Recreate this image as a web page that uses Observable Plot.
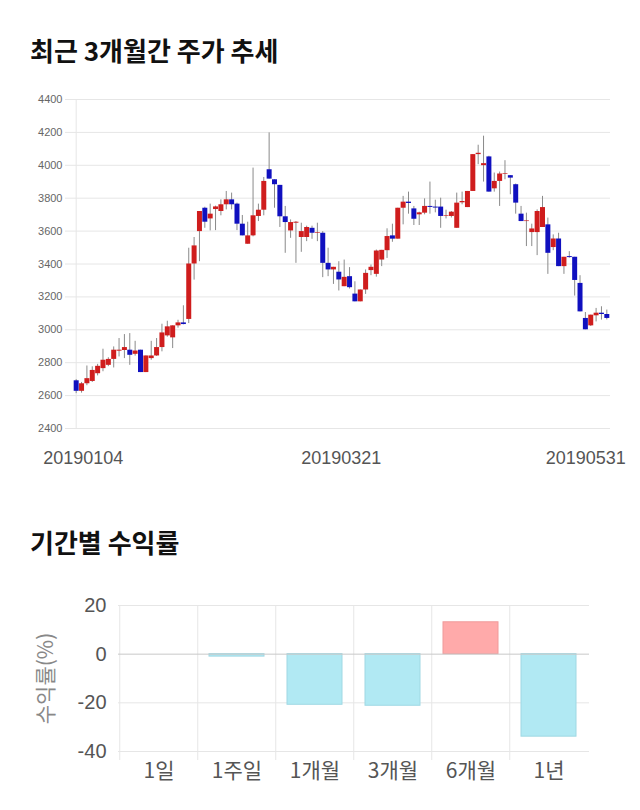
<!DOCTYPE html>
<html><head><meta charset="utf-8">
<script src="https://cdn.jsdelivr.net/npm/d3@7"></script>
<script src="https://cdn.jsdelivr.net/npm/@observablehq/plot@0.6"></script>
<style>
body{margin:0;background:#fff;width:640px;height:810px;position:relative;overflow:hidden;font-family:"Noto Sans CJK KR","Noto Sans",sans-serif;}
.title{position:absolute;left:30px;font-size:26px;font-weight:bold;color:#111;line-height:1;white-space:nowrap;}
#c1{position:absolute;left:0;top:80px;}
#c2{position:absolute;left:0;top:580px;}
svg{display:block;}
</style></head><body>
<div class="title" style="top:37px">최근 3개월간 주가 추세</div>
<div id="c1"></div>
<div class="title" style="top:529px">기간별 수익률</div>
<div id="c2"></div>
<script>
const dates = [
"20190104","20190107","20190108","20190109","20190110","20190111","20190114","20190115","20190116","20190117",
"20190118","20190121","20190122","20190123","20190124","20190125","20190128","20190129","20190130","20190131",
"20190201","20190207","20190208","20190211","20190212","20190213","20190214","20190215","20190218","20190219",
"20190220","20190221","20190222","20190225","20190226","20190227","20190228","20190304","20190305","20190306",
"20190307","20190308","20190311","20190312","20190313","20190314","20190315","20190318","20190319","20190320",
"20190321","20190322","20190325","20190326","20190327","20190328","20190329","20190401","20190402","20190403",
"20190404","20190405","20190408","20190409","20190410","20190411","20190412","20190415","20190416","20190417",
"20190418","20190419","20190422","20190423","20190424","20190425","20190426","20190429","20190430","20190502",
"20190503","20190507","20190508","20190509","20190510","20190513","20190514","20190515","20190516","20190517",
"20190520","20190521","20190522","20190523","20190524","20190527","20190528","20190529","20190530","20190531"];
const opens = [
2690,2626,2672,2686,2733,2764,2784,2820,2870,2874,
2876,2851,2876,2740,2825,2841,2892,2963,2951,3024,
3042,3063,3400,3597,3739,3674,3731,3719,3760,3790,
3764,3642,3520,3571,3689,3727,3973,3912,3878,3687,
3601,3648,3561,3561,3617,3587,3587,3404,3364,3350,
3262,3323,3217,3170,3242,3360,3337,3424,3481,3571,
3551,3739,3776,3735,3699,3709,3750,3746,3746,3691,
3689,3617,3772,3743,3841,4065,3998,4051,3857,3902,
3945,3937,3882,3703,3658,3591,3591,3622,3638,3500,
3552,3384,3445,3441,3282,3069,3024,3085,3101,3093];
const highs = [
2697,2680,2780,2775,2790,2882,2830,2896,2947,2971,
2977,2930,2876,2841,2930,2947,3034,3052,3024,3058,
3146,3496,3561,3719,3745,3764,3752,3790,3841,3831,
3770,3695,3654,3983,3764,3926,4197,3912,3878,3750,
3668,3658,3648,3630,3630,3648,3597,3496,3380,3414,
3424,3378,3292,3242,3364,3394,3485,3483,3614,3642,
3739,3811,3837,3750,3715,3796,3898,3788,3800,3727,
3719,3831,3837,3841,4065,4122,4177,4055,3953,3959,
4028,3937,3886,3750,3709,3642,3729,3811,3679,3577,
3587,3441,3475,3441,3329,3105,3089,3130,3140,3120];
const lows = [
2612,2615,2660,2680,2720,2745,2776,2768,2835,2825,
2784,2840,2740,2740,2815,2838,2866,2955,2886,3010,
3030,3038,3302,3414,3617,3601,3603,3693,3729,3729,
3603,3571,3520,3565,3658,3693,3916,3739,3622,3465,
3556,3404,3471,3536,3550,3536,3317,3323,3276,3236,
3262,3248,3170,3170,3215,3329,3320,3384,3434,3532,
3551,3638,3703,3634,3634,3699,3703,3711,3617,3674,
3680,3617,3760,3743,3841,4004,3898,3837,3837,3750,
3912,3821,3703,3658,3506,3506,3451,3622,3337,3481,
3384,3337,3435,3205,3109,3000,3020,3048,3059,3060];
const closes = [
2626,2672,2703,2753,2778,2815,2820,2876,2876,2892,
2845,2871,2740,2841,2841,2892,2981,3018,3024,3042,
3032,3400,3510,3719,3654,3703,3747,3760,3790,3760,
3642,3571,3571,3693,3727,3902,3916,3882,3687,3652,
3652,3654,3597,3622,3587,3591,3404,3364,3380,3303,
3319,3256,3170,3242,3343,3380,3479,3483,3567,3551,
3739,3776,3768,3672,3711,3750,3744,3740,3689,3695,
3715,3770,3780,3841,4065,4073,4010,3837,3902,3947,
3949,3922,3770,3658,3662,3613,3719,3743,3465,3552,
3384,3441,3439,3300,3109,3000,3089,3101,3093,3069];
const priceTicks = [2400,2600,2800,3000,3200,3400,3600,3800,4000,4200,4400];
const dateLabels = ["20190104","20190321","20190531"];

const periods = ["1일","1주일","1개월","3개월","6개월","1년"];
const returns = [0, -1.0, -20.8, -21.2, 13.1, -33.9];
const returnTicks = [20, 0, -20, -40];

const candles = dates.map((d, i) => ({date: d, open: opens[i], high: highs[i], low: lows[i], close: closes[i]}));
const isUp = d => d.close >= d.open;
const plain = d => String(d);

const chart1 = Plot.plot({
  width: 640, height: 400,
  marginLeft: 65, marginRight: 30, marginTop: 19, marginBottom: 52,
  x: {type: "point", domain: dates, insetLeft: 8, insetRight: 1},
  y: {domain: [2400, 4400]},
  color: {type: "identity"},
  style: {fontFamily: "'Liberation Sans','Noto Sans CJK KR',sans-serif", background: "transparent"},
  marks: [
    Plot.ruleY(priceTicks, {stroke: "#e6e6e6"}),
    Plot.ruleX([dates[0]], {stroke: "#e6e6e6"}),
    Plot.axisY(priceTicks, {tickSize: 0, tickPadding: 3, fontSize: 11, fill: "#666", label: null, tickFormat: plain}),
    Plot.axisX([dateLabels[0]], {tickSize: 0, tickPadding: 23, fontSize: 18, fill: "#555", textAnchor: "start", dx: -33, label: null}),
    Plot.axisX([dateLabels[1]], {tickSize: 0, tickPadding: 23, fontSize: 18, fill: "#555", dx: -3, label: null}),
    Plot.axisX([dateLabels[2]], {tickSize: 0, tickPadding: 23, fontSize: 18, fill: "#555", textAnchor: "end", dx: 19, label: null}),
    Plot.ruleX(candles, {x: "date", y1: "low", y2: "high", stroke: "#8a8a8a", strokeWidth: 1}),
    Plot.ruleX(candles, {x: "date", y1: "open", y2: "close", stroke: d => isUp(d) ? "#cf1d1d" : "#1010bf", strokeWidth: 5})
  ]
});
document.getElementById("c1").appendChild(chart1);

const rows = periods.map((p, i) => ({period: p, value: returns[i]}));
const chart2 = Plot.plot({
  width: 640, height: 220,
  marginLeft: 118, marginRight: 51, marginTop: 25, marginBottom: 49,
  x: {type: "band", domain: periods, paddingInner: 0.3, paddingOuter: 0.15},
  y: {domain: [-40, 20]},
  color: {type: "identity"},
  style: {fontFamily: "'Liberation Sans','Noto Sans CJK KR',sans-serif", background: "transparent"},
  marks: [
    Plot.ruleY([20, -20, -40], {stroke: "#e6e6e6"}),
    Plot.ruleX(periods, {x: d => d, dx: -39.25, stroke: "#e6e6e6", insetBottom: -9}),
    Plot.barY(rows, {x: "period", y: "value", fill: d => d.value >= 0 ? "#ffaaaa" : "#b1e9f3", stroke: d => d.value >= 0 ? "#f09a9a" : "#9fd8e3", strokeWidth: 1}),
    Plot.ruleY([0], {stroke: "#c8c8c8"}),
    Plot.axisY(returnTicks, {tickSize: 0, tickPadding: 12, fontSize: 20, fill: "#555", label: null, tickFormat: plain}),
    Plot.axisX(periods, {tickSize: 0, tickPadding: 12, fontSize: 21, fill: "#555", label: null, fontFamily: "'Noto Sans CJK KR',sans-serif"}),
    Plot.text(["수익률(%)"], {frameAnchor: "left", textAnchor: "middle", dx: -72, rotate: -90, fontSize: 21, fill: "#888", fontFamily: "'Noto Sans CJK KR',sans-serif"})
  ]
});
document.getElementById("c2").appendChild(chart2);
</script></body></html>
